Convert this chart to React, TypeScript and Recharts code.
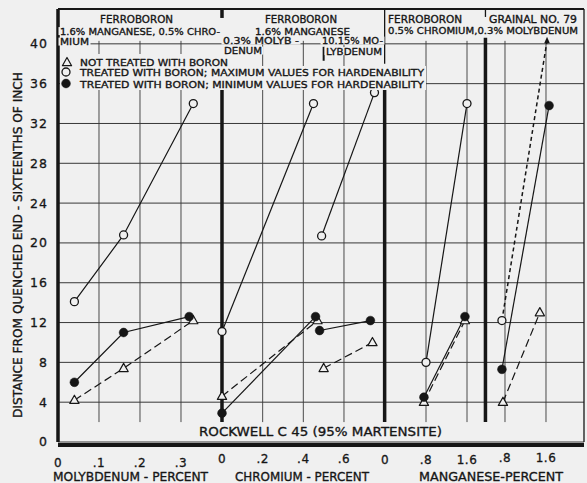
import React from 'react';
import { ComposedChart, Line, XAxis, YAxis, CartesianGrid, ReferenceLine } from 'recharts';

type Pair = [number, number];

const INK = '#161616';
const GRID = '#383838';
const BG = '#f0f0f0';
const FONT = '"DejaVu Sans", "Liberation Sans", sans-serif';

// Distance from quenched end (sixteenths of an inch) at Rockwell C 45
const Y_TICKS = [0, 4, 8, 12, 16, 20, 24, 28, 32, 36, 40];
const Y_DOMAIN: [number, number] = [0, 43.5];

// Panel 1 - ferroboron, 1.6% Mn + 0.5% Cr, molybdenum varied
const MO_TICKS = [0, 0.1, 0.2, 0.3];
const MO_NOT_TREATED: Pair[] = [[0.04, 4.2], [0.16, 7.4], [0.33, 12.2]];
const MO_MAX: Pair[] = [[0.04, 14.1], [0.16, 20.8], [0.33, 34.0]];
const MO_MIN: Pair[] = [[0.04, 6.0], [0.16, 11.0], [0.32, 12.6]];

// Panel 2 - ferroboron, 1.6% Mn, chromium varied (0.3% Mo and 10.15% Mo groups)
const CR_TICKS = [0, 0.2, 0.4, 0.6];
const CR_NOT_TREATED: Pair[] = [[0, 4.6], [0.47, 12.2]];
const CR_MAX: Pair[] = [[0, 11.1], [0.45, 34.0]];
const CR_MIN: Pair[] = [[0, 2.9], [0.46, 12.6]];
const CR_HIMO_NOT_TREATED: Pair[] = [[0.5, 7.4], [0.74, 10.0]];
const CR_HIMO_MAX: Pair[] = [[0.49, 20.7], [0.75, 35.1]];
const CR_HIMO_MIN: Pair[] = [[0.48, 11.2], [0.73, 12.2]];

// Panel 3 - ferroboron, 0.5% Cr + 0.3% Mo, manganese varied
const MN_TICKS = [0, 0.8, 1.6];
const MN_NOT_TREATED: Pair[] = [[0.76, 4.0], [1.56, 12.2]];
const MN_MAX: Pair[] = [[0.8, 8.0], [1.6, 34.0]];
const MN_MIN: Pair[] = [[0.76, 4.5], [1.56, 12.6]];

// Panel 4 - Grainal No. 79, manganese varied
const GR_TICKS = [0.8, 1.6];
const GR_NOT_TREATED: Pair[] = [[0.76, 4.0], [1.48, 13.0]];
const GR_MAX: Pair[] = [[0.74, 12.2], [1.62, 40.3]];
const GR_MIN: Pair[] = [[0.74, 7.3], [1.66, 33.8]];

// Each panel has its own percent scale; these domains span the full plot width
const MO_DOMAIN: [number, number] = [0, 1.283];
const CR_DOMAIN: [number, number] = [-0.8067, 1.7806];
const MN_DOMAIN: [number, number] = [-6.3805, 3.8829];
const GR_DOMAIN: [number, number] = [-7.922, 2.3415];

// Panel boundaries and grid extents
const GRID_LOW = 2;
const GRID_HIGH = 40.3;
const SEP_MO = 0.4;
const SEP_CR = 0.8;
const SEP_MN = 1.96;

const toPoints = (p: Pair[]) => p.map(([x, y]) => ({ x, y }));

type Marker = 'open' | 'filled' | 'triangle' | 'arrow';

const DASH_LONG = '8 4';
const DASH_SHORT = '4 3';

const SERIES: { id: string; axis: string; data: Pair[]; marker: Marker; end?: Marker; dash?: string; width?: number }[] = [
  { id: 'mo-nt', axis: 'mo', data: MO_NOT_TREATED, marker: 'triangle', dash: DASH_LONG },
  { id: 'mo-max', axis: 'mo', data: MO_MAX, marker: 'open' },
  { id: 'mo-min', axis: 'mo', data: MO_MIN, marker: 'filled' },
  { id: 'cr-nt', axis: 'cr', data: CR_NOT_TREATED, marker: 'triangle', dash: DASH_LONG },
  { id: 'cr-max', axis: 'cr', data: CR_MAX, marker: 'open' },
  { id: 'cr-min', axis: 'cr', data: CR_MIN, marker: 'filled' },
  { id: 'crh-nt', axis: 'cr', data: CR_HIMO_NOT_TREATED, marker: 'triangle', dash: DASH_LONG },
  { id: 'crh-max', axis: 'cr', data: CR_HIMO_MAX, marker: 'open' },
  { id: 'crh-min', axis: 'cr', data: CR_HIMO_MIN, marker: 'filled' },
  { id: 'mn-nt', axis: 'mn', data: MN_NOT_TREATED, marker: 'triangle', dash: DASH_LONG },
  { id: 'mn-max', axis: 'mn', data: MN_MAX, marker: 'open' },
  { id: 'mn-min', axis: 'mn', data: MN_MIN, marker: 'filled' },
  { id: 'gr-nt', axis: 'gr', data: GR_NOT_TREATED, marker: 'triangle', dash: DASH_LONG },
  { id: 'gr-max', axis: 'gr', data: GR_MAX, marker: 'open', end: 'arrow', dash: DASH_SHORT, width: 1.5 },
  { id: 'gr-min', axis: 'gr', data: GR_MIN, marker: 'filled' },
];

function drawMarker(kind: Marker, cx: number, cy: number, key: string) {
  switch (kind) {
    case 'open':
      return <circle key={key} cx={cx} cy={cy} r={4} fill={BG} stroke={INK} strokeWidth={1.3} />;
    case 'filled':
      return <circle key={key} cx={cx} cy={cy} r={4.4} fill={INK} stroke={INK} strokeWidth={0.5} />;
    case 'triangle':
      return (
        <path
          key={key}
          d={`M${cx},${cy - 5} L${cx + 4.6},${cy + 3.2} L${cx - 4.6},${cy + 3.2} Z`}
          fill={BG}
          stroke={INK}
          strokeWidth={1.2}
          strokeLinejoin="round"
        />
      );
    case 'arrow':
      return <path key={key} d={`M${cx},${cy - 4} L${cx + 2.8},${cy + 2.5} L${cx - 2.8},${cy + 2.5} Z`} fill={INK} />;
  }
}

const markerRenderer = (id: string, kind: Marker, count: number, end?: Marker) => (props: any) => {
  const { cx, cy, index } = props;
  const key = `${id}-${index}`;
  if (cx == null || cy == null) return <g key={key} />;
  const k = end && index === count - 1 ? end : kind;
  return drawMarker(k, cx, cy, key);
};

const fmtPct = (v: number) => (v === 0 ? '0' : v < 1 ? String(v).replace(/^0/, '') : String(v));

const TICK_STYLE = { fill: INK, stroke: INK, strokeWidth: 0.3, fontSize: 12, fontFamily: FONT, letterSpacing: 0.5 };

// The four bottom axes stack one pixel apart; the tick margin is trimmed to keep labels on one line
const AXIS_H = 1;
const PANELS: { id: string; domain: [number, number]; ticks: number[] }[] = [
  { id: 'mo', domain: MO_DOMAIN, ticks: MO_TICKS },
  { id: 'cr', domain: CR_DOMAIN, ticks: CR_TICKS },
  { id: 'mn', domain: MN_DOMAIN, ticks: MN_TICKS },
  { id: 'gr', domain: GR_DOMAIN, ticks: GR_TICKS },
];

const seg = (axis: string, x: number, y0: number, y1: number, w: number, key: string) => (
  <ReferenceLine
    key={key}
    xAxisId={axis}
    segment={[{ x, y: y0 }, { x, y: y1 }]}
    stroke={INK}
    strokeWidth={w}
    ifOverflow="visible"
  />
);

type Cap = { text: string; x: number; y: number; len: number; size: number; anchor?: 'start' | 'middle'; rotate?: boolean };

const CAPTIONS: Cap[] = [
  { text: 'FERROBORON', x: 100, y: 23, len: 73, size: 10.5 },
  { text: '1.6% MANGANESE, 0.5% CHRO-', x: 60, y: 34.5, len: 160, size: 9.5 },
  { text: 'MIUM', x: 60, y: 45, len: 29, size: 9.5 },
  { text: 'FERROBORON', x: 265, y: 23, len: 72, size: 10.5 },
  { text: '1.6% MANGANESE', x: 255, y: 34.5, len: 95, size: 9.5 },
  { text: '0.3% MOLYB -', x: 223, y: 44, len: 76, size: 9.5 },
  { text: 'DENUM', x: 224, y: 54, len: 38, size: 9.5 },
  { text: '10.15% MO-', x: 322, y: 44, len: 61, size: 9.5 },
  { text: 'LYBDENUM', x: 326, y: 54.5, len: 56, size: 9.5 },
  { text: 'FERROBORON', x: 388, y: 23, len: 74, size: 10.5 },
  { text: '0.5% CHROMIUM,0.3% MOLYBDENUM', x: 388, y: 34, len: 190, size: 9.5 },
  { text: 'GRAINAL NO. 79', x: 489, y: 23, len: 88, size: 10.5 },
  { text: 'NOT TREATED WITH BORON', x: 80, y: 65.5, len: 148, size: 9.5 },
  { text: 'TREATED WITH BORON; MAXIMUM VALUES FOR HARDENABILITY', x: 80, y: 76, len: 344, size: 9.5 },
  { text: 'TREATED WITH BORON; MINIMUM VALUES FOR HARDENABILITY', x: 80, y: 87.5, len: 344, size: 9.5 },
  { text: 'ROCKWELL C 45 (95% MARTENSITE)', x: 199, y: 435.5, len: 243, size: 13 },
  { text: 'MOLYBDENUM - PERCENT', x: 53, y: 481, len: 155, size: 12.5 },
  { text: 'CHROMIUM - PERCENT', x: 235, y: 481, len: 134, size: 12.5 },
  { text: 'MANGANESE-PERCENT', x: 419, y: 481, len: 144, size: 12.5 },
  { text: 'DISTANCE FROM QUENCHED END - SIXTEENTHS OF INCH', x: 22, y: 245, len: 346, size: 12.5, anchor: 'middle', rotate: true },
];

// Blank patch behind a caption so grid lines stop at the lettering
function Patch({ c }: { c: Cap }) {
  if (c.rotate) return null;
  const left = c.anchor === 'middle' ? c.x - c.len / 2 : c.x;
  const top = c.y - c.size * 0.78;
  return <rect x={left - 1.5} y={top} width={c.len + 3} height={c.size * 0.84} fill={BG} />;
}

function Caption({ c }: { c: Cap }) {
  return (
    <text
      x={c.rotate ? 0 : c.x}
      y={c.rotate ? 0 : c.y}
      transform={c.rotate ? `translate(${c.x},${c.y}) rotate(-90)` : undefined}
      textAnchor={c.anchor ?? 'start'}
      fontFamily={FONT}
      fontSize={c.size}
      fill={INK}
      stroke={INK}
      strokeWidth={0.35}
      strokeLinejoin="round"
      textLength={c.len}
      lengthAdjust="spacingAndGlyphs"
    >
      {c.text}
    </text>
  );
}

function Overlay() {
  return (
    <svg
      width={587}
      height={483}
      style={{ position: 'absolute', left: 0, top: 0, pointerEvents: 'none' }}
    >
      {/* legend block sits on a blank patch of the grid */}
      <rect x={60} y={54} width={170} height={36} fill={BG} />
      <rect x={230} y={66} width={196} height={24} fill={BG} />
      {CAPTIONS.map((c, i) => <Patch key={`p${i}`} c={c} />)}
      {CAPTIONS.map((c, i) => <Caption key={`t${i}`} c={c} />)}
      {drawMarker('triangle', 67, 62.5, 'lg-t')}
      {drawMarker('open', 66, 72, 'lg-o')}
      {drawMarker('filled', 66, 83.5, 'lg-f')}
    </svg>
  );
}

export default function App() {
  return (
    <div style={{ position: 'absolute', left: 0, top: 0, width: 587, height: 483, background: BG, overflow: 'hidden' }}>
      <ComposedChart width={587} height={483} margin={{ top: 9, right: 3, bottom: 41 - PANELS.length * AXIS_H, left: 0 }}>
        <CartesianGrid xAxisId="mo" vertical={false} stroke={GRID} strokeWidth={1} />
        <YAxis
          type="number"
          domain={Y_DOMAIN}
          ticks={Y_TICKS}
          allowDataOverflow
          interval={0}
          width={58}
          tickSize={0}
          tickMargin={10}
          tickLine={false}
          axisLine={{ stroke: INK, strokeWidth: 3.5 }}
          tick={{ ...TICK_STYLE, fontSize: 12.5, letterSpacing: 1 }}
        />
        {PANELS.map((p, i) => (
          <XAxis
            key={p.id}
            xAxisId={p.id}
            type="number"
            dataKey="x"
            domain={p.domain}
            ticks={p.ticks}
            allowDataOverflow
            interval={0}
            height={AXIS_H}
            tickSize={0}
            tickMargin={13 - i * AXIS_H}
            tickLine={false}
            tickFormatter={fmtPct}
            tick={TICK_STYLE}
            axisLine={i === 0 ? { stroke: INK, strokeWidth: 4 } : false}
          />
        ))}
        {PANELS.flatMap((p) =>
          p.ticks
            .filter((t) => t !== 0)
            .map((t) => (
              <ReferenceLine
                key={`g-${p.id}-${t}`}
                xAxisId={p.id}
                segment={[{ x: t, y: GRID_LOW }, { x: t, y: GRID_HIGH }]}
                stroke={GRID}
                strokeWidth={0.9}
                ifOverflow="visible"
              />
            ))
        )}
        {/* frame: top and right edges */}
        <ReferenceLine xAxisId="mo" y={Y_DOMAIN[1]} stroke={INK} strokeWidth={2} ifOverflow="visible" />
        <ReferenceLine xAxisId="mo" x={MO_DOMAIN[1]} stroke={INK} strokeWidth={1.3} ifOverflow="visible" />
        {/* heavy panel dividers */}
        {seg('mo', SEP_MO, GRID_LOW, 35.4, 3.5, 's1a')}
        {seg('mo', SEP_MO, 42.6, Y_DOMAIN[1], 3.5, 's1b')}
        {seg('cr', SEP_CR, GRID_LOW, 35.5, 3.5, 's2a')}
        {seg('cr', SEP_CR, 38.0, Y_DOMAIN[1], 1.3, 's2b')}
        {seg('cr', 0.5, 38.3, 39.7, 2, 's2c')}
        {seg('mn', SEP_MN, GRID_LOW, 40.6, 3.5, 's3a')}
        {seg('mn', SEP_MN, 42.7, Y_DOMAIN[1], 1.3, 's3b')}
        {SERIES.map((s) => (
          <Line
            key={s.id}
            xAxisId={s.axis}
            data={toPoints(s.data)}
            dataKey="y"
            type="linear"
            stroke={INK}
            strokeWidth={s.width ?? 1.2}
            strokeDasharray={s.dash}
            dot={markerRenderer(s.id, s.marker, s.data.length, s.end)}
            activeDot={false}
            legendType="none"
            isAnimationActive={false}
          />
        ))}
      </ComposedChart>
      <Overlay />
    </div>
  );
}
